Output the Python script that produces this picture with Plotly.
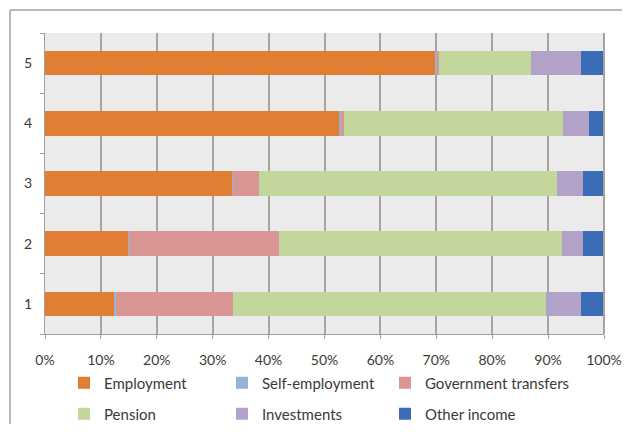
import plotly.graph_objects as go

categories = [1, 2, 3, 4, 5]
category_labels = ["1", "2", "3", "4", "5"]

employment = [12.5, 14.9, 33.5, 52.7, 69.7]
self_employment = [0.2, 0.2, 0.2, 0.3, 0.5]
government_transfers = [20.9, 26.7, 4.6, 0.5, 0.2]
pension = [56.1, 50.6, 53.3, 39.2, 16.5]
investments = [6.1, 3.8, 4.7, 4.7, 9.0]
other_income = [4.2, 3.8, 3.7, 2.6, 4.1]

x_ticks = [0, 10, 20, 30, 40, 50, 60, 70, 80, 90, 100]
x_tick_labels = ["0%", "10%", "20%", "30%", "40%", "50%", "60%", "70%", "80%", "90%", "100%"]

series = [
    ("Employment", employment, "#E07F34"),
    ("Self-employment", self_employment, "#95B3D7"),
    ("Government transfers", government_transfers, "#D99694"),
    ("Pension", pension, "#C3D69B"),
    ("Investments", investments, "#B3A2C7"),
    ("Other income", other_income, "#3A6DB5"),
]

FONT = "Lato, 'Open Sans', sans-serif"
TEXT = "#3a3a3a"

# figure sized so that it plus the browser's 8px body margin fills the window
W, H = 614, 416
ML, MR, MT, MB = 37, 18, 25, 90
PW, PH = W - ML - MR, H - MT - MB

legend_names = ["legend", "legend2", "legend3", "legend4", "legend5", "legend6"]
col_x = [19 / PW, 177 / PW, 340 / PW]
row_y = [-49 / PH, -80 / PH]

fig = go.Figure()
for i, (name, vals, color) in enumerate(series):
    fig.add_trace(go.Bar(
        y=categories, x=vals, name=name, orientation="h",
        marker=dict(color=color, line=dict(width=0)),
        width=0.41, legend=legend_names[i],
    ))

grid_col = "#a9a39f"
axis_col = "#a0a0a0"

layout_legends = {}
for i, lg in enumerate(legend_names):
    layout_legends[lg] = dict(
        orientation="h", x=col_x[i % 3], xanchor="left",
        y=row_y[i // 3], yanchor="middle",
        font=dict(size=15, color=TEXT), bgcolor="rgba(0,0,0,0)",
    )

fig.update_layout(
    width=W, height=H,
    margin=dict(l=ML, r=MR, t=MT, b=MB, autoexpand=False),
    paper_bgcolor="white",
    plot_bgcolor="#ebebeb",
    barmode="stack",
    font=dict(family=FONT, size=14, color=TEXT),
    showlegend=True,
    xaxis=dict(
        range=[0, 100], tickvals=x_ticks, ticktext=x_tick_labels,
        showgrid=True, gridcolor=grid_col, gridwidth=2,
        showline=True, linecolor=axis_col, linewidth=1,
        ticks="outside", ticklen=4, tickcolor=axis_col,
        zeroline=False, fixedrange=True,
        tickfont=dict(size=14, color=TEXT), ticklabelstandoff=9,
    ),
    yaxis=dict(
        range=[0.5, 5.5], tickvals=categories, ticktext=category_labels,
        showgrid=False, zeroline=False,
        showline=True, linecolor=axis_col, linewidth=1,
        ticks="", tickfont=dict(size=14, color=TEXT), ticklabelstandoff=9,
        minor=dict(tickvals=[0.5, 1.5, 2.5, 3.5, 4.5, 5.5], ticks="outside",
                   ticklen=4, tickcolor=axis_col, showgrid=False),
        fixedrange=True,
    ),
    shapes=[
        dict(type="line", xref="paper", yref="paper", x0=1, x1=1, y0=0, y1=1,
             line=dict(color=grid_col, width=2)),
        dict(type="line", xref="paper", yref="paper",
             x0=-35 / PW, x1=(W - ML) / PW, y0=1 + 23 / PH, y1=1 + 23 / PH,
             line=dict(color=axis_col, width=1.5)),
        dict(type="line", xref="paper", yref="paper",
             x0=-35 / PW, x1=-35 / PW, y0=-MB / PH, y1=1 + 23 / PH,
             line=dict(color=axis_col, width=1.5)),
    ],
    **layout_legends,
)

fig.write_html("out.html")
